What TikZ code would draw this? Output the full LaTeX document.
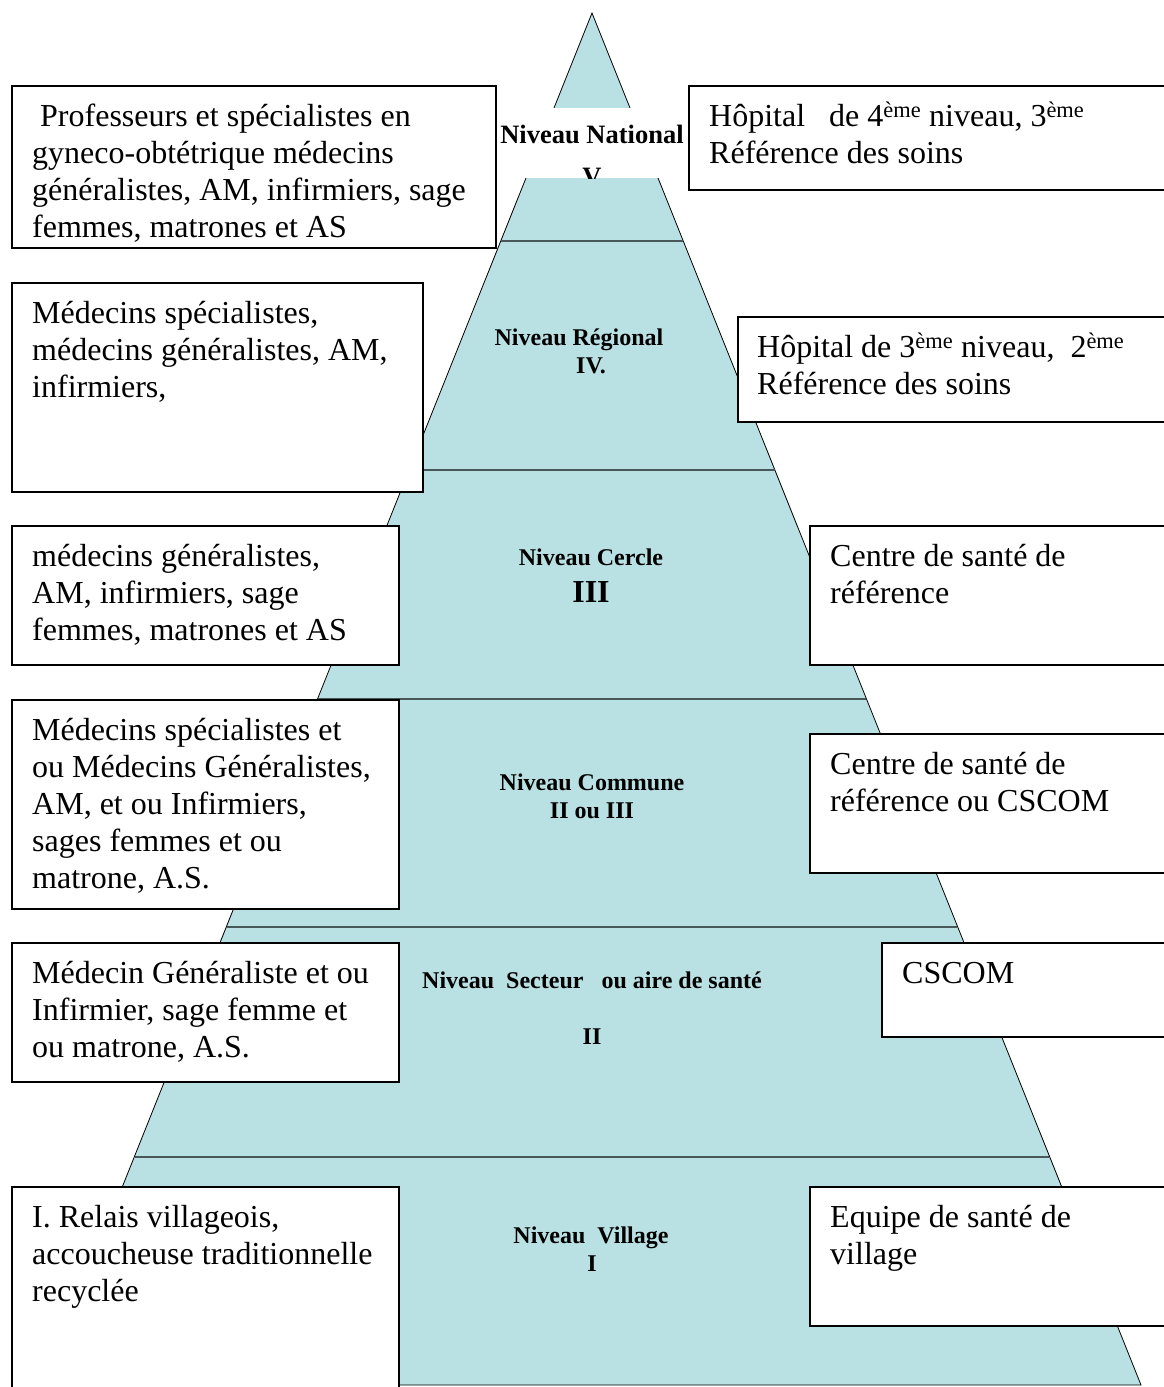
\documentclass[tikz,border=0pt]{standalone}
\usepackage{fontspec}
\setmainfont{Liberation Serif}
\definecolor{pyr}{RGB}{185,224,227}
\definecolor{divc}{RGB}{72,88,90}
\begin{document}
\begin{tikzpicture}[x=1pt,y=-1pt,
  box/.style={draw=black, line width=1.5pt, fill=white, inner sep=0pt, anchor=north west},
  boxtext/.style={anchor=north west, inner sep=0pt, align=left, font=\fontsize{32}{37}\selectfont},
  lvl/.style={anchor=base, inner sep=0pt, font=\fontsize{24}{28}\selectfont\bfseries},
  divline/.style={draw=divc, line width=2.2pt}
]
\clip (0,0) rectangle (1164,1387);
\fill[white] (0,0) rectangle (1164,1387);
% pyramid
\filldraw[fill=pyr, draw=black, line width=0.8pt] (592,13) -- (1141,1385) -- (43,1385) -- cycle;
% level dividers
\draw[divline] (500.9,241) -- (683.1,241);
\draw[divline] (409.5,470) -- (774.5,470);
\draw[divline] (318,699) -- (866,699);
\draw[divline] (227,927) -- (957,927);
\draw[divline] (135,1157) -- (1049,1157);
% national label band
\fill[white] (497,108) rectangle (687,178);
\begin{scope}
\clip (497,108) rectangle (687,178);
\node[lvl, font=\fontsize{26.5}{30}\selectfont\bfseries] (nat) at (592,143) {Niveau National};
\node[lvl, font=\fontsize{26.5}{30}\selectfont\bfseries] (natv) at (592,185) {V};
\end{scope}
% level labels
\node[lvl] (reg) at (579,345) {Niveau Régional};
\node[lvl] (regv) at (591,373) {IV.};
\node[lvl] (cer) at (591,565) {Niveau Cercle};
\node[lvl, font=\fontsize{32}{37}\selectfont\bfseries] (cerv) at (591,602) {III};
\node[lvl] (com) at (592,790) {Niveau Commune};
\node[lvl] (comv) at (592,818) {II ou III};
\node[lvl] (sec) at (592,988) {Niveau\ \ Secteur\ \ \ ou aire de santé};
\node[lvl] (secv) at (592,1044) {II};
\node[lvl] (vil) at (591,1243) {Niveau\ \ Village};
\node[lvl] (vilv) at (592,1271) {I};
% left boxes
\node[box, minimum width=484pt, minimum height=162pt] (L1) at (11,85) {};
\node[boxtext] (L1t) at ([xshift=21pt,yshift=-15pt]L1.north west)
  {\strut\ Professeurs et spécialistes en\\gyneco-obtétrique médecins\\généralistes, AM, infirmiers, sage\\femmes, matrones et AS};
\node[box, minimum width=411pt, minimum height=209pt] (L2) at (11,282) {};
\node[boxtext] (L2t) at ([xshift=21pt,yshift=-15pt]L2.north west)
  {\strut Médecins spécialistes,\\médecins généralistes, AM,\\infirmiers,};
\node[box, minimum width=387pt, minimum height=139pt] (L3) at (11,525) {};
\node[boxtext] (L3t) at ([xshift=21pt,yshift=-15pt]L3.north west)
  {\strut médecins généralistes,\\AM, infirmiers, sage\\femmes, matrones et AS};
\node[box, minimum width=387pt, minimum height=209pt] (L4) at (11,699) {};
\node[boxtext] (L4t) at ([xshift=21pt,yshift=-15pt]L4.north west)
  {\strut Médecins spécialistes et\\ou Médecins Généralistes,\\AM, et ou Infirmiers,\\sages femmes et ou\\matrone, A.S.};
\node[box, minimum width=387pt, minimum height=139pt] (L5) at (11,942) {};
\node[boxtext] (L5t) at ([xshift=21pt,yshift=-15pt]L5.north west)
  {\strut Médecin Généraliste et ou\\Infirmier, sage femme et\\ou matrone, A.S.};
\node[box, minimum width=387pt, minimum height=214pt] (L6) at (11,1186) {};
\node[boxtext] (L6t) at ([xshift=21pt,yshift=-15pt]L6.north west)
  {\strut I. Relais villageois,\\accoucheuse traditionnelle\\recyclée};
% right boxes
\node[box, minimum width=482pt, minimum height=104pt] (R1) at (688,85) {};
\node[boxtext] (R1t) at ([xshift=21pt,yshift=-15pt]R1.north west)
  {\strut Hôpital\ \ \ de 4\textsuperscript{ème} niveau, 3\textsuperscript{ème}\\Référence des soins};
\node[box, minimum width=433pt, minimum height=105pt] (R2) at (737,316) {};
\node[boxtext] (R2t) at ([xshift=20pt,yshift=-15pt]R2.north west)
  {\strut Hôpital de 3\textsuperscript{ème} niveau,\ \ 2\textsuperscript{ème}\\Référence des soins};
\node[box, minimum width=361pt, minimum height=139pt] (R3) at (809,525) {};
\node[boxtext] (R3t) at ([xshift=21pt,yshift=-15pt]R3.north west)
  {\strut Centre de santé de\\référence};
\node[box, minimum width=361pt, minimum height=139pt] (R4) at (809,733) {};
\node[boxtext] (R4t) at ([xshift=21pt,yshift=-15pt]R4.north west)
  {\strut Centre de santé de\\référence ou CSCOM};
\node[box, minimum width=289pt, minimum height=94pt] (R5) at (881,942) {};
\node[boxtext] (R5t) at ([xshift=21pt,yshift=-15pt]R5.north west)
  {\strut CSCOM};
\node[box, minimum width=361pt, minimum height=139pt] (R6) at (809,1186) {};
\node[boxtext] (R6t) at ([xshift=21pt,yshift=-15pt]R6.north west)
  {\strut Equipe de santé de\\village};
\end{tikzpicture}
\end{document}
